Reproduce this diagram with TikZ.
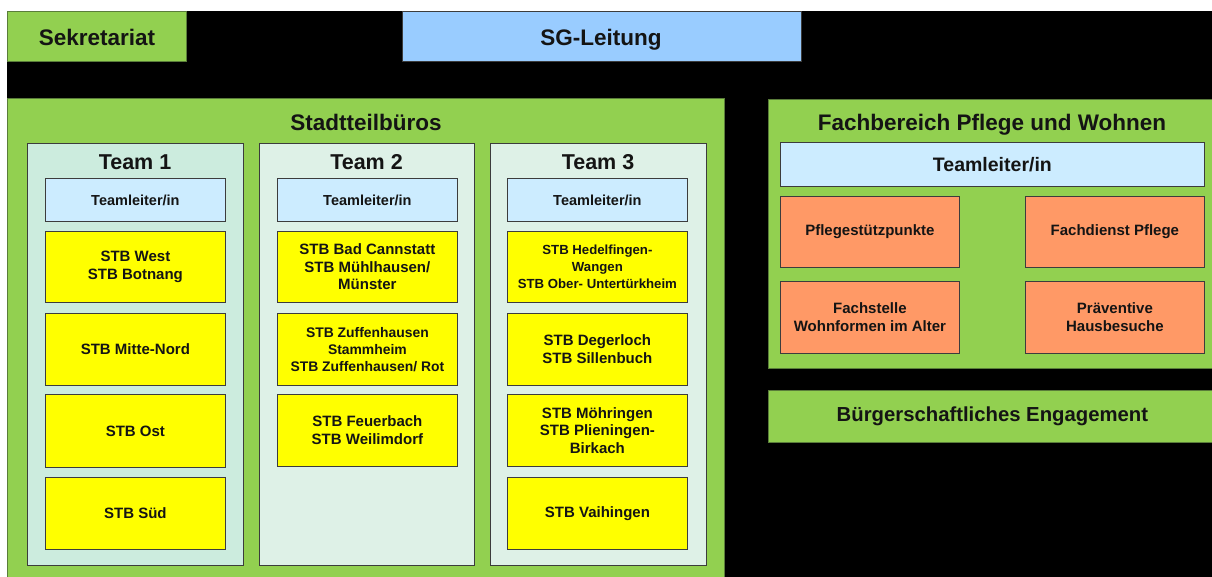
\documentclass[tikz,border=0pt]{standalone}
\usepackage{fontspec}
\setmainfont{Liberation Sans}
\definecolor{grp}{HTML}{92D050}
\definecolor{grpline}{HTML}{5A7D3A}
\definecolor{lead}{HTML}{99CCFF}
\definecolor{tl}{HTML}{CCECFF}
\definecolor{stb}{HTML}{FFFF00}
\definecolor{fach}{HTML}{FF9966}
\definecolor{teamA}{HTML}{CCECDE}
\definecolor{teamB}{HTML}{DEF1E7}
\definecolor{edge}{HTML}{3C3C3C}
\definecolor{ink}{HTML}{141414}
\newcommand\fs[2]{\fontsize{#1}{#2}\selectfont\bfseries}
\tikzset{
  rect/.style args={#1,#2,#3,#4}{at={(#1,#2)}, anchor=north west,
    minimum width={#3-#1}, minimum height={#4-#2}, inner sep=0pt,
    align=center, text=ink},
  greenbox/.style={fill=grp, draw=grpline, line width=0.8pt},
  teambox/.style={draw=edge, line width=0.8pt},
  tlbox/.style={fill=tl, draw=edge, line width=0.8pt, font=\fs{14.5}{17}},
  stbbox/.style={fill=stb, draw=edge, line width=0.8pt, font=\fs{15}{18}},
  orbox/.style={fill=fach, draw=edge, line width=0.8pt, font=\fs{15}{18.3}},
  title/.style={anchor=base, inner sep=0pt, text=ink},
}
\begin{document}
\begin{tikzpicture}[x=1pt, y=-1pt]
\useasboundingbox (0,0) rectangle (1212,577);
\clip (0,0) rectangle (1212,577);
\fill[white] (0,0) rectangle (1212,577);
\fill[black] (7,11) rectangle (1212,577);

% top row
\node[rect={7,11,186,61}, greenbox] (sek) {};
\node[title, font=\fs{22.5}{27}] (sekt) at (97,46) {Sekretariat};
\node[rect={402,11,801,61}, fill=lead, draw=edge, line width=0.6pt] (sg) {};
\node[title, font=\fs{22.5}{27}] (sgt) at (601,46) {SG-Leitung};

% Stadtteilbueros
\node[rect={7,98,724,600}, greenbox] (stadt) {};
\node[title, font=\fs{22.5}{27}] (stadtt) at (366,131) {Stadtteilbüros};

\node[rect={27,143,243,565}, teambox, fill=teamA] (team1) {};
\node[rect={259,143,474,565}, teambox, fill=teamB] (team2) {};
\node[rect={490,143,706,565}, teambox, fill=teamB] (team3) {};
\node[title, font=\fs{21.5}{26}] (team1t) at (135,169.5) {Team 1};
\node[title, font=\fs{21.5}{26}] (team2t) at (366.5,169.5) {Team 2};
\node[title, font=\fs{21.5}{26}] (team3t) at (598,169.5) {Team 3};

% team 1
\node[rect={45,178,225,221}, tlbox] (tl1) {Teamleiter/in};
\node[rect={45,231,225,302}, stbbox] (t1a) {STB West\\STB Botnang};
\node[rect={45,313,225,385}, stbbox] (t1b) {STB Mitte-Nord};
\node[rect={45,394,225,467}, stbbox] (t1c) {STB Ost};
\node[rect={45,477,225,549}, stbbox] (t1d) {STB Süd};

% team 2
\node[rect={277,178,457,221}, tlbox] (tl2) {Teamleiter/in};
\node[rect={277,231,457,302}, stbbox, font=\fs{15}{17.3}] (t2a) {STB Bad Cannstatt\\STB Mühlhausen/\\Münster};
\node[rect={277,313,457,385}, stbbox, font=\fs{13.9}{17}] (t2b) {STB Zuffenhausen\\Stammheim\\STB Zuffenhausen/ Rot};
\node[rect={277,394,457,466}, stbbox] (t2c) {STB Feuerbach\\STB Weilimdorf};

% team 3
\node[rect={507,178,687,221}, tlbox] (tl3) {Teamleiter/in};
\node[rect={507,231,687,302}, stbbox, font=\fs{13.2}{17}] (t3a) {STB Hedelfingen-\\Wangen\\STB Ober- Untertürkheim};
\node[rect={507,313,687,385}, stbbox] (t3b) {STB Degerloch\\STB Sillenbuch};
\node[rect={507,394,687,466}, stbbox, font=\fs{15}{17.3}] (t3c) {STB Möhringen\\STB Plieningen-\\Birkach};
\node[rect={507,477,687,549}, stbbox] (t3d) {STB Vaihingen};

% Fachbereich Pflege und Wohnen
\node[rect={768,99,1216,368}, greenbox] (fb) {};
\node[title, font=\fs{22.5}{27}] (fbt) at (992,131) {Fachbereich Pflege und Wohnen};
\node[rect={780,142,1204,186}, tlbox, font=\fs{19.5}{23}] (fbtl) {Teamleiter/in};
\node[rect={780,196,959,267}, orbox] (psp) {Pflegestützpunkte};
\node[rect={1025,196,1204,267}, orbox] (fdp) {Fachdienst Pflege};
\node[rect={780,281,959,353}, orbox] (fwa) {Fachstelle\\Wohnformen im Alter};
\node[rect={1025,281,1204,353}, orbox] (phb) {Präventive\\Hausbesuche};

% Buergerschaftliches Engagement
\node[rect={768,390,1216,442}, greenbox, font=\fs{20.3}{24}] (be) {Bürgerschaftliches Engagement};
\end{tikzpicture}
\end{document}
